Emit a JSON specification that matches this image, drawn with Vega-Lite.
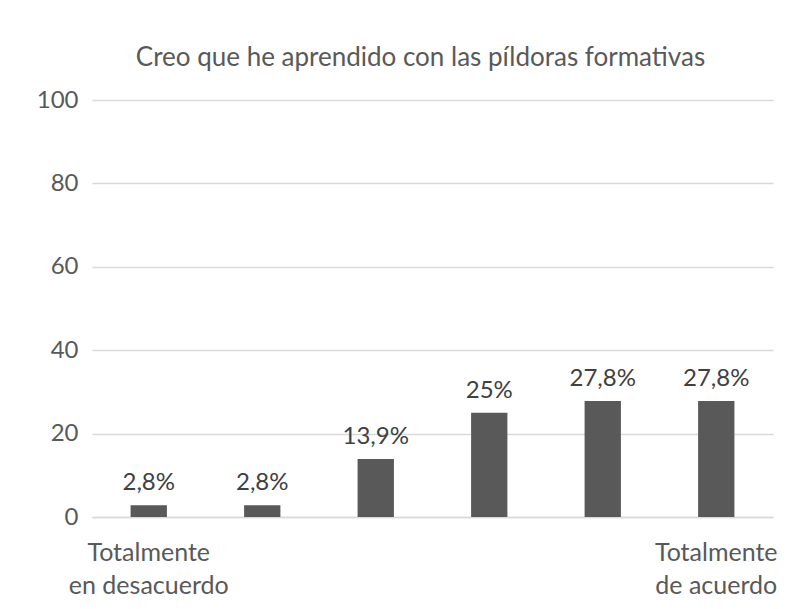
{
  "$schema": "https://vega.github.io/schema/vega-lite/v6.json",
  "width": 681,
  "height": 417,
  "autosize": {"type": "none"},
  "padding": {"left": 92, "top": 100, "right": 17, "bottom": 92},
  "background": "white",
  "title": {
    "text": "Creo que he aprendido con las píldoras formativas",
    "font": "Lato",
    "fontSize": 26,
    "fontWeight": "normal",
    "color": "#595959",
    "anchor": "middle",
    "baseline": "alphabetic",
    "offset": -4,
    "dx": -12
  },
  "data": {
    "values": [
      {"cat": "1", "value": 2.8, "label": "2,8%"},
      {"cat": "2", "value": 2.8, "label": "2,8%"},
      {"cat": "3", "value": 13.9, "label": "13,9%"},
      {"cat": "4", "value": 25, "label": "25%"},
      {"cat": "5", "value": 27.8, "label": "27,8%"},
      {"cat": "6", "value": 27.8, "label": "27,8%"}
    ]
  },
  "encoding": {
    "x": {
      "field": "cat",
      "type": "nominal",
      "sort": null,
      "scale": {"paddingInner": 0.68, "paddingOuter": 0.34},
      "axis": {
        "title": null,
        "labelAngle": 0,
        "labelExpr": "datum.value == '1' ? ['Totalmente', 'en desacuerdo'] : (datum.value == '6' ? ['Totalmente', 'de acuerdo'] : '')",
        "labelFont": "Lato",
        "labelFontSize": 25,
        "labelColor": "#595959",
        "labelLineHeight": 33,
        "labelPadding": 23,
        "ticks": false,
        "domain": true,
        "domainColor": "#d9d9d9",
        "domainWidth": 1.5
      }
    },
    "y": {
      "field": "value",
      "type": "quantitative",
      "scale": {"domain": [0, 100]},
      "axis": {
        "title": null,
        "values": [0, 20, 40, 60, 80, 100],
        "labelFont": "Lato",
        "labelFontSize": 24,
        "labelColor": "#595959",
        "labelPadding": 14,
        "ticks": false,
        "domain": false,
        "gridColor": "#d9d9d9",
        "gridWidth": 1.5
      }
    }
  },
  "layer": [
    {"mark": {"type": "bar", "color": "#595959"}},
    {
      "mark": {"type": "text", "baseline": "bottom", "dy": -10, "font": "Lato", "fontSize": 24, "color": "#404040"},
      "encoding": {"text": {"field": "label"}}
    }
  ],
  "config": {"view": {"stroke": null}}
}
